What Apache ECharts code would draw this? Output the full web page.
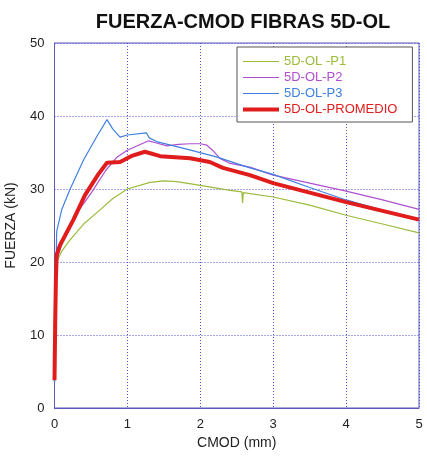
<!DOCTYPE html>
<html>
<head>
<meta charset="utf-8">
<script src="https://cdn.jsdelivr.net/npm/echarts@6/dist/echarts.min.js"></script>
<style>
  html, body { margin: 0; padding: 0; background: #fff; }
  #chart { width: 427px; height: 460px; }
</style>
</head>
<body>
<div id="chart"></div>
<script>
// CMOD (mm) vs load (kN) for the three 5D-OL fibre specimens and their average
const seriesNames = ['5D-OL -P1', '5D-OL-P2', '5D-OL-P3', '5D-OL-PROMEDIO'];

const p1 = [[0,3.5],[0.01,10],[0.02,16],[0.03,20],[0.1,21.5],[0.21,23.0],[0.4,25.2],[0.62,27.1],[0.8,28.7],[1.0,30.0],[1.31,30.9],[1.5,31.1],[1.68,31.0],[2.0,30.5],[2.41,29.8],[2.57,29.6],[2.58,28.1],[2.59,29.5],[3.0,28.9],[3.5,27.8],[4.0,26.4],[4.5,25.2],[5.0,24.0]];

const p2 = [[0,3.5],[0.02,17],[0.04,20.5],[0.1,22.5],[0.21,24.6],[0.35,27.3],[0.5,29.4],[0.7,32.5],[0.85,34.3],[1.0,35.3],[1.29,36.6],[1.4,36.3],[1.54,35.9],[1.7,36.1],[1.86,36.2],[2.0,36.2],[2.09,36.0],[2.18,35.2],[2.27,34.2],[2.41,33.5],[2.68,33.0],[3.0,31.9],[3.5,30.8],[4.0,29.7],[4.5,28.5],[5.0,27.2]];

const p3 = [[0,3.5],[0.02,18],[0.03,24.2],[0.1,27.2],[0.21,29.9],[0.4,34.0],[0.58,37.2],[0.72,39.5],[0.8,38.2],[0.9,37.1],[1.0,37.4],[1.26,37.7],[1.3,37.0],[1.4,36.5],[1.8,35.5],[2.22,34.4],[2.68,32.9],[3.0,32.0],[3.5,30.2],[4.0,28.5],[4.6,26.8]];

const promedio = [[0,3.8],[0.01,12],[0.02,18],[0.03,21],[0.075,22.3],[0.26,25.8],[0.42,29.2],[0.6,32.0],[0.72,33.6],[0.9,33.7],[1.05,34.5],[1.24,35.1],[1.45,34.5],[1.86,34.2],[2.13,33.7],[2.31,32.9],[2.68,31.9],[3.0,30.8],[3.5,29.5],[4.0,28.2],[4.5,27.0],[5.0,25.8]];

const colors = ['#9bbb3b', '#b04fd0', '#3f80e0', '#e01c1c'];
const widths = [1.2, 1.2, 1.2, 4];
const dataSets = [p1, p2, p3, promedio];

const chart = echarts.init(document.getElementById('chart'));
const axisColor = '#5a5ab8';
const gridLine = { show: true, lineStyle: { color: '#5050d8', type: [1, 2], width: 1 } };
const font = 'Liberation Sans, Arial';

chart.setOption({
  animation: false,
  title: {
    text: 'FUERZA-CMOD FIBRAS 5D-OL',
    left: 238, top: 7, textAlign: 'center',
    textStyle: { fontFamily: font, fontSize: 20, fontWeight: 'bold', color: '#111' }
  },
  legend: {
    orient: 'vertical',
    left: 237, top: 47,
    padding: [8, 15, 6, 6],
    itemGap: 3,
    itemWidth: 36, itemHeight: 11,
    borderColor: '#555', borderWidth: 1,
    backgroundColor: '#fff',
    data: seriesNames.map((n, i) => ({
      name: n,
      icon: i === 3 ? 'path://M0,0 H36 V4 H0 Z' : 'path://M0,0 H36 V1 H0 Z',
      textStyle: { color: colors[i], fontFamily: font, fontSize: 13 }
    })),
    itemStyle: { borderWidth: 0 }
  },
  grid: {
    left: 54.5, right: 8, top: 43, bottom: 52,
    outerBoundsMode: 'none',
    show: true, borderColor: axisColor, borderWidth: 1
  },
  xAxis: {
    type: 'value', min: 0, max: 5, interval: 1,
    name: 'CMOD (mm)', nameLocation: 'middle', nameGap: 28,
    nameTextStyle: { fontFamily: font, fontSize: 14, color: '#222' },
    axisLine: { show: true, lineStyle: { color: axisColor } },
    axisTick: { show: false },
    axisLabel: { fontFamily: font, fontSize: 13, color: '#222', margin: 10 },
    splitLine: gridLine
  },
  yAxis: {
    type: 'value', min: 0, max: 50, interval: 10,
    name: 'FUERZA (kN)', nameLocation: 'middle', nameGap: 36,
    nameTextStyle: { fontFamily: font, fontSize: 14, color: '#222' },
    axisLine: { show: true, lineStyle: { color: axisColor } },
    axisTick: { show: false },
    axisLabel: { fontFamily: font, fontSize: 13, color: '#222', margin: 10 },
    splitLine: gridLine
  },
  series: dataSets.map((d, i) => ({
    name: seriesNames[i],
    type: 'line',
    data: d,
    showSymbol: false,
    symbol: 'none',
    z: i === 3 ? 5 : 3,
    lineStyle: { color: colors[i], width: widths[i] },
    itemStyle: { color: colors[i] }
  }))
});
</script>
</body>
</html>
